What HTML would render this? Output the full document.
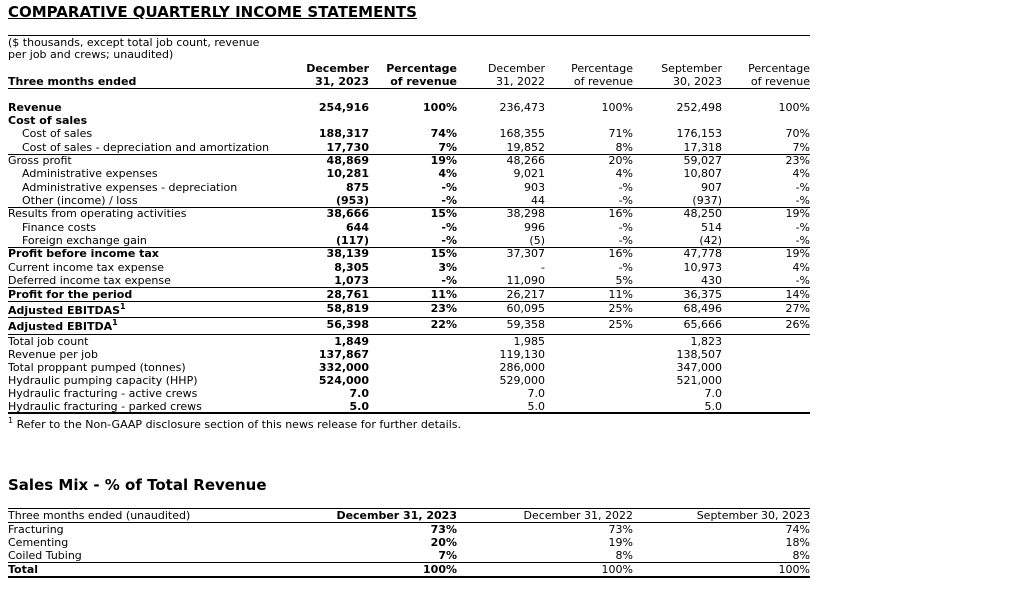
<!DOCTYPE html>
<html><head><meta charset="utf-8"><style>
body{margin:0;width:1026px;height:592px;background:#fff;position:relative;font-family:"DejaVu Sans","Liberation Sans",sans-serif;font-size:11px;color:#000;overflow:hidden}
.r{position:absolute;left:0;width:1026px;height:13px;line-height:13px;white-space:nowrap}
.r span{position:absolute}
.l{left:8px}.i{left:22px}
.c1{right:657px;font-weight:bold}.c2{right:569px;font-weight:bold}.c3{right:481px}.c4{right:393px}.c5{right:304px}.c6{right:216px}
.b{font-weight:bold}
.h{position:absolute;left:8px;width:802px;height:1px;background:#000}
sup{font-size:8px;line-height:0;vertical-align:5px}
.m .c1{right:569px}.m .c3{right:393px;font-weight:normal}.m .c5{right:216px;font-weight:normal}
</style></head><body>
<div style="position:absolute;left:8px;top:3px;font-weight:bold;font-size:15px;text-decoration:underline;line-height:18px">COMPARATIVE QUARTERLY INCOME STATEMENTS</div>
<div class="h" style="top:35px"></div>
<div class="r" style="top:36px"><span class="l">($ thousands, except total job count, revenue</span></div>
<div class="r" style="top:48px"><span class="l">per job and crews; unaudited)</span></div>
<div class="r" style="top:62px"><span class="c1">December</span><span class="c2">Percentage</span><span class="c3">December</span><span class="c4">Percentage</span><span class="c5">September</span><span class="c6">Percentage</span></div>
<div class="r" style="top:75px"><span class="l b">Three months ended</span><span class="c1">31, 2023</span><span class="c2">of revenue</span><span class="c3">31, 2022</span><span class="c4">of revenue</span><span class="c5">30, 2023</span><span class="c6">of revenue</span></div>
<div class="h" style="top:88px"></div>

<div class="r" style="top:101px"><span class="l b">Revenue</span><span class="c1">254,916</span><span class="c2">100%</span><span class="c3">236,473</span><span class="c4">100%</span><span class="c5">252,498</span><span class="c6">100%</span></div>
<div class="r" style="top:114px"><span class="l b">Cost of sales</span></div>
<div class="r" style="top:127px"><span class="i">Cost of sales</span><span class="c1">188,317</span><span class="c2">74%</span><span class="c3">168,355</span><span class="c4">71%</span><span class="c5">176,153</span><span class="c6">70%</span></div>
<div class="r" style="top:141px"><span class="i">Cost of sales - depreciation and amortization</span><span class="c1">17,730</span><span class="c2">7%</span><span class="c3">19,852</span><span class="c4">8%</span><span class="c5">17,318</span><span class="c6">7%</span></div>
<div class="h" style="top:154px"></div>
<div class="r" style="top:154px"><span class="l">Gross profit</span><span class="c1">48,869</span><span class="c2">19%</span><span class="c3">48,266</span><span class="c4">20%</span><span class="c5">59,027</span><span class="c6">23%</span></div>
<div class="r" style="top:167px"><span class="i">Administrative expenses</span><span class="c1">10,281</span><span class="c2">4%</span><span class="c3">9,021</span><span class="c4">4%</span><span class="c5">10,807</span><span class="c6">4%</span></div>
<div class="r" style="top:181px"><span class="i">Administrative expenses - depreciation</span><span class="c1">875</span><span class="c2">-%</span><span class="c3">903</span><span class="c4">-%</span><span class="c5">907</span><span class="c6">-%</span></div>
<div class="r" style="top:194px"><span class="i">Other (income) / loss</span><span class="c1">(953)</span><span class="c2">-%</span><span class="c3">44</span><span class="c4">-%</span><span class="c5">(937)</span><span class="c6">-%</span></div>
<div class="h" style="top:207px"></div>
<div class="r" style="top:207px"><span class="l">Results from operating activities</span><span class="c1">38,666</span><span class="c2">15%</span><span class="c3">38,298</span><span class="c4">16%</span><span class="c5">48,250</span><span class="c6">19%</span></div>
<div class="r" style="top:221px"><span class="i">Finance costs</span><span class="c1">644</span><span class="c2">-%</span><span class="c3">996</span><span class="c4">-%</span><span class="c5">514</span><span class="c6">-%</span></div>
<div class="r" style="top:234px"><span class="i">Foreign exchange gain</span><span class="c1">(117)</span><span class="c2">-%</span><span class="c3">(5)</span><span class="c4">-%</span><span class="c5">(42)</span><span class="c6">-%</span></div>
<div class="h" style="top:247px"></div>
<div class="r" style="top:247px"><span class="l b">Profit before income tax</span><span class="c1">38,139</span><span class="c2">15%</span><span class="c3">37,307</span><span class="c4">16%</span><span class="c5">47,778</span><span class="c6">19%</span></div>
<div class="r" style="top:261px"><span class="l">Current income tax expense</span><span class="c1">8,305</span><span class="c2">3%</span><span class="c3">-</span><span class="c4">-%</span><span class="c5">10,973</span><span class="c6">4%</span></div>
<div class="r" style="top:274px"><span class="l">Deferred income tax expense</span><span class="c1">1,073</span><span class="c2">-%</span><span class="c3">11,090</span><span class="c4">5%</span><span class="c5">430</span><span class="c6">-%</span></div>
<div class="h" style="top:287px"></div>
<div class="r" style="top:288px"><span class="l b">Profit for the period</span><span class="c1">28,761</span><span class="c2">11%</span><span class="c3">26,217</span><span class="c4">11%</span><span class="c5">36,375</span><span class="c6">14%</span></div>
<div class="h" style="top:301px"></div>
<div class="r" style="top:302px"><span class="l b" style="top:2px">Adjusted EBITDAS<sup>1</sup></span><span class="c1">58,819</span><span class="c2">23%</span><span class="c3">60,095</span><span class="c4">25%</span><span class="c5">68,496</span><span class="c6">27%</span></div>
<div class="h" style="top:317px"></div>
<div class="r" style="top:318px"><span class="l b" style="top:2px">Adjusted EBITDA<sup>1</sup></span><span class="c1">56,398</span><span class="c2">22%</span><span class="c3">59,358</span><span class="c4">25%</span><span class="c5">65,666</span><span class="c6">26%</span></div>
<div class="h" style="top:334px"></div>
<div class="r" style="top:335px"><span class="l">Total job count</span><span class="c1">1,849</span><span class="c3">1,985</span><span class="c5">1,823</span></div>
<div class="r" style="top:348px"><span class="l">Revenue per job</span><span class="c1">137,867</span><span class="c3">119,130</span><span class="c5">138,507</span></div>
<div class="r" style="top:361px"><span class="l">Total proppant pumped (tonnes)</span><span class="c1">332,000</span><span class="c3">286,000</span><span class="c5">347,000</span></div>
<div class="r" style="top:374px"><span class="l">Hydraulic pumping capacity (HHP)</span><span class="c1">524,000</span><span class="c3">529,000</span><span class="c5">521,000</span></div>
<div class="r" style="top:387px"><span class="l">Hydraulic fracturing - active crews</span><span class="c1">7.0</span><span class="c3">7.0</span><span class="c5">7.0</span></div>
<div class="r" style="top:400px"><span class="l">Hydraulic fracturing - parked crews</span><span class="c1">5.0</span><span class="c3">5.0</span><span class="c5">5.0</span></div>
<div class="h" style="top:412px;height:2px"></div>
<div class="r" style="top:418px"><span class="l"><sup>1</sup> Refer to the Non-GAAP disclosure section of this news release for further details.</span></div>

<div style="position:absolute;left:8px;top:476px;font-weight:bold;font-size:15px;line-height:18px">Sales Mix - % of Total Revenue</div>
<div class="h" style="top:508px"></div>
<div class="r m" style="top:509px"><span class="l">Three months ended (unaudited)</span><span class="c1">December 31, 2023</span><span class="c3">December 31, 2022</span><span class="c5">September 30, 2023</span></div>
<div class="h" style="top:522px"></div>
<div class="r m" style="top:523px"><span class="l">Fracturing</span><span class="c1">73%</span><span class="c3">73%</span><span class="c5">74%</span></div>
<div class="r m" style="top:536px"><span class="l">Cementing</span><span class="c1">20%</span><span class="c3">19%</span><span class="c5">18%</span></div>
<div class="r m" style="top:549px"><span class="l">Coiled Tubing</span><span class="c1">7%</span><span class="c3">8%</span><span class="c5">8%</span></div>
<div class="h" style="top:562px"></div>
<div class="r m" style="top:563px"><span class="l b">Total</span><span class="c1">100%</span><span class="c3">100%</span><span class="c5">100%</span></div>
<div class="h" style="top:576px;height:2px"></div>
</body></html>
